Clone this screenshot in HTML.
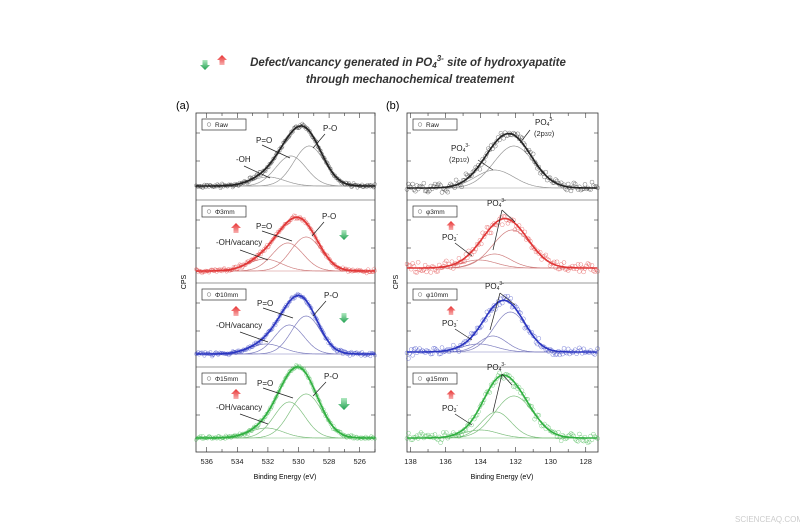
<!DOCTYPE html>
<html><head><meta charset="utf-8"><style>
body{margin:0;background:#fff;width:800px;height:530px;overflow:hidden}
svg{display:block}
text{font-family:"Liberation Sans",sans-serif}
</style></head><body>
<svg id="s" width="800" height="530" xmlns="http://www.w3.org/2000/svg">
<defs>
<linearGradient id="gr" x1="0" y1="0" x2="0" y2="1"><stop offset="0" stop-color="#e83030"/><stop offset="1" stop-color="#f8b0b0"/></linearGradient>
<linearGradient id="gg" x1="0" y1="0" x2="0" y2="1"><stop offset="0" stop-color="#b0e8c0"/><stop offset="1" stop-color="#20a050"/></linearGradient>
</defs>
<g font-style="italic" font-weight="bold" font-size="11.5" fill="#333" text-anchor="middle">
<text x="408" y="66">Defect/vancancy generated in PO<tspan font-size="8" dy="2">4</tspan><tspan font-size="8" dy="-7">3-</tspan><tspan dy="5"> site of hydroxyapatite</tspan></text>
<text x="410" y="83">through mechanochemical treatement</text>
</g>
<g id="arrows"></g>
<text x="176" y="109" font-size="11">(a)</text>
<text x="386" y="109" font-size="11">(b)</text>
<text x="186" y="282" font-size="7" transform="rotate(-90 186 282)" text-anchor="middle">CPS</text>
<text x="398" y="282" font-size="7" transform="rotate(-90 398 282)" text-anchor="middle">CPS</text>
<text x="285" y="479" font-size="7" text-anchor="middle">Binding Energy (eV)</text>
<text x="502" y="479" font-size="7" text-anchor="middle">Binding Energy (eV)</text>
<g id="g"></g>
<text x="735" y="522" font-size="8" fill="#ccc">SCIENCEAQ.COM</text>
</svg>
<script>
var g=document.getElementById('g'),NS='http://www.w3.org/2000/svg';
function el(t,a,p){var e=document.createElementNS(NS,t);for(var k in a)e.setAttribute(k,a[k]);(p||g).appendChild(e);return e}
function tx(x,y,s,sz,anchor){var e=el('text',{x:x,y:y,'font-size':sz||7,'text-anchor':anchor||'start',fill:'#222'});e.innerHTML=s;return e}
var seed=7;function rnd(){seed=(seed*16807)%2147483647;return seed/2147483647}
function gauss(){return (rnd()+rnd()+rnd()-1.5)}
var cols={k:'#222',r:'#e03535',b:'#2a35c0',g:'#30b040'};
var light={k:'#999',r:'#d08080',b:'#8080c0',g:'#80c080'};
function panel(L,R,Emax,Emin,tops,data,noise){
  var X=function(E){return L+(Emax-E)/(Emax-Emin)*(R-L)};
  el('rect',{x:L,y:113,width:R-L,height:339,fill:'none',stroke:'#333','stroke-width':0.8});
  for(var i=1;i<4;i++)el('line',{x1:L,x2:R,y1:tops[i],y2:tops[i],stroke:'#333','stroke-width':0.6});
  for(var E=Math.ceil(Emin);E<=Emax;E++){var x=X(E),maj=(E%2==0);
    el('line',{x1:x,x2:x,y1:452,y2:452-(maj?5:3),stroke:'#333','stroke-width':0.6});
    el('line',{x1:x,x2:x,y1:113,y2:113+(maj?5:3),stroke:'#333','stroke-width':0.6});
    if(maj)tx(x,464,E,7.5,'middle');}
  data.forEach(function(d,i){
    var y0=d.base,c=cols[d.c],lc=light[d.c];
    for(var t=tops[i]+20;t<y0;t+=28){el('line',{x1:L,x2:L+4,y1:t,y2:t,stroke:'#333','stroke-width':0.6});el('line',{x1:R,x2:R-4,y1:t,y2:t,stroke:'#333','stroke-width':0.6});}
    var f=function(E,cs){var s=0;cs.forEach(function(k){s+=k[1]*Math.exp(-Math.pow((E-k[0])/k[2],2)/2)});return s};
    d.comp.forEach(function(k){var p='';for(var E=Emax;E>=Emin;E-=0.05){p+=(p?'L':'M')+X(E).toFixed(1)+','+(y0-f(E,[k])).toFixed(1)}
      el('path',{d:p,fill:'none',stroke:lc,'stroke-width':0.7});});
    el('line',{x1:L,x2:R,y1:y0,y2:y0,stroke:lc,'stroke-width':0.6});
    var step=noise?0.08:0.05;
    for(var E=Emax;E>=Emin;E-=step){var y=y0-f(E,d.comp)+gauss()*(noise||2);
      el('circle',{cx:X(E).toFixed(1),cy:y.toFixed(1),r:noise?2:1.6,fill:'none',stroke:c,'stroke-width':0.5,opacity:noise?0.6:0.55});}
    var p='';for(var E=Emax;E>=Emin;E-=0.05){p+=(p?'L':'M')+X(E).toFixed(1)+','+(y0-f(E,d.comp)).toFixed(1)}
    el('path',{d:p,fill:'none',stroke:c,'stroke-width':1.6});
    el('rect',{x:L+6,y:tops[i]+6,width:44,height:11,fill:'#fff',stroke:'#333','stroke-width':0.7});
    el('circle',{cx:L+13,cy:tops[i]+11.5,r:1.8,fill:'none',stroke:'#888','stroke-width':0.6});
    tx(L+19,tops[i]+14,d.name,6.5);
  });
  return X;
}
var tops=[113,200,283,367];
panel(196,375,536.7,525,tops,[
 {base:186,c:'k',name:'Raw',comp:[[529.3,40,1.0],[530.5,30,1.0],[532,9,1.1]]},
 {base:271,c:'r',name:'&Phi;3mm',comp:[[529.5,34,1.0],[530.7,28,1.0],[532.2,12,1.1]]},
 {base:354,c:'b',name:'&Phi;10mm',comp:[[529.5,38,0.95],[530.6,29,0.95],[532.1,10,1.1]]},
 {base:438,c:'g',name:'&Phi;15mm',comp:[[529.5,44,1.05],[530.6,36,1.0],[532.1,10,1.1]]}],0);
panel(407,598,138.2,127.3,tops,[
 {base:188,c:'k',name:'Raw',comp:[[132.1,42,1.15],[133.2,18,1.1]]},
 {base:268,c:'r',name:'&phi;3mm',comp:[[132.2,38,1.1],[133.2,14,0.9],[134.1,8,1.0]]},
 {base:352,c:'b',name:'&phi;10mm',comp:[[132.3,40,0.95],[133.3,16,0.8],[134.1,8,1.0]]},
 {base:438,c:'g',name:'&phi;15mm',comp:[[132.1,42,1.1],[133.1,26,0.85],[134,8,1.0]]}],5);
function ln(a){el('line',{x1:a[0],y1:a[1],x2:a[2],y2:a[3],stroke:'#222','stroke-width':0.7})}
tx(256,143,'P=O',8);tx(323,131,'P-O',8);tx(236,162,'-OH',8);ln([262,145,290,158]);ln([325,134,313,148]);ln([244,166,270,178]);
tx(256,229,'P=O',8);tx(322,219,'P-O',8);tx(216,245,'-OH/vacancy',8);ln([262,231,292,241]);ln([324,222,312,236]);ln([240,250,268,260]);
tx(257,306,'P=O',8);tx(324,298,'P-O',8);tx(216,328,'-OH/vacancy',8);ln([263,308,293,318]);ln([326,301,313,316]);ln([240,332,268,342]);
tx(257,386,'P=O',8);tx(324,379,'P-O',8);tx(216,410,'-OH/vacancy',8);ln([263,388,293,398]);ln([326,382,313,396]);ln([240,414,268,424]);
function po4(x,y){tx(x,y,'PO<tspan font-size="5" dy="1">4</tspan><tspan font-size="5" dy="-5">3-</tspan>',8)}
function po3(x,y){tx(x,y,'PO<tspan font-size="5" dy="1">3</tspan><tspan font-size="5" dy="-5">-</tspan>',8)}
po4(535,125);tx(534,136,'(2p<tspan font-size="5">3/2</tspan>)',7.5);po4(451,151);tx(449,162,'(2p<tspan font-size="5">1/2</tspan>)',7.5);ln([530,130,520,143]);ln([478,160,493,170]);
po4(487,206);po3(442,240);ln([502,210,493,250]);ln([502,210,515,222]);ln([455,243,472,256]);
po4(485,289);po3(442,326);ln([500,293,490,330]);ln([500,293,515,305]);ln([455,329,472,340]);
po4(487,370);po3(442,411);ln([502,374,493,412]);ln([502,374,512,385]);ln([455,414,472,425]);
var A=document.getElementById('arrows');
function up(x,y,s){el('path',{d:'M'+x+','+y+'l'+(5*s)+','+(5*s)+'h'+(-2.5*s)+'v'+(5*s)+'h'+(-5*s)+'v'+(-5*s)+'h'+(-2.5*s)+'z',fill:'url(#gr)'},A)}
function dn(x,y,s){el('path',{d:'M'+x+','+y+'l'+(5*s)+','+(-5*s)+'h'+(-2.5*s)+'v'+(-5*s)+'h'+(-5*s)+'v'+(5*s)+'h'+(-2.5*s)+'z',fill:'url(#gg)'},A)}
dn(205,70,1);up(222,55,1);
up(236,223,1);dn(344,240,1);up(236,306,1);dn(344,323,1);up(236,389,1);dn(344,410,1.2);
up(451,221,0.9);up(451,306,0.9);up(451,390,0.9);
</script>
</body></html>
